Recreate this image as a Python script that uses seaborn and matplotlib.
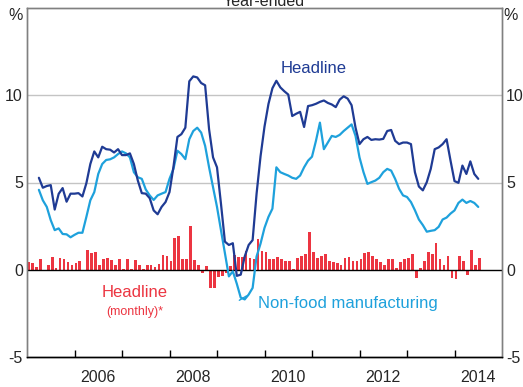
import pandas as pd
import matplotlib.pyplot as plt
import seaborn as sns

# year-ended inflation, monthly from Apr 2005 to Jul 2014
headline = [5.27, 4.7, 4.8, 4.85, 3.45, 4.35, 4.68, 3.9, 4.36, 4.36, 4.39, 4.2,
            4.96, 6.06, 6.78, 6.44, 7.05, 6.91, 6.88, 6.72, 6.91, 6.57, 6.57, 6.67,
            6.06, 5.11, 4.39, 4.36, 4.1, 3.4, 3.18, 3.6, 3.88, 4.45, 5.9, 7.61,
            7.77, 8.14, 10.8, 11.08, 11.02, 10.7, 10.57, 8.05, 6.44, 5.87, 3.79, 1.61,
            1.42, 1.52, -0.35, -0.28, 0.76, 1.42, 1.7, 4.36, 6.5, 8.2, 9.5, 10.4,
            10.83, 10.45, 10.23, 10.04, 8.81, 8.94, 9.05, 8.18, 9.38, 9.43, 9.51, 9.62,
            9.7, 9.56, 9.47, 9.32, 9.75, 9.94, 9.81, 9.43, 8.14, 7.2, 7.48, 7.61,
            7.44, 7.48, 7.46, 7.5, 7.95, 8.01, 7.39, 7.2, 7.29, 7.29, 7.2, 5.59,
            4.77, 4.55, 5.02, 5.78, 6.91, 7.01, 7.2, 7.48, 6.25, 5.08, 4.98, 5.97,
            5.49, 6.21, 5.49, 5.21]
non_food = [4.58, 3.98, 3.6, 2.84, 2.27, 2.37, 2.05, 2.03, 1.86, 2.0, 2.12, 2.12,
            3.03, 3.98, 4.45, 5.49, 6.06, 6.29, 6.33, 6.44, 6.63, 6.78, 6.67, 6.44,
            5.59, 5.3, 5.21, 4.6, 4.26, 4.0, 4.26, 4.36, 4.45, 5.21, 5.78, 6.82,
            6.63, 6.34, 7.48, 7.95, 8.14, 7.86, 7.1, 5.87, 4.73, 3.6, 2.27, 0.95,
            -0.38, -0.09, -0.8, -1.6, -1.7, -1.42, -1.04, 0.76, 1.5, 2.4, 3.03, 3.5,
            5.87, 5.59, 5.49, 5.4, 5.27, 5.21, 5.4, 5.87, 6.25, 6.48, 7.39, 8.43,
            6.91, 7.29, 7.67, 7.61, 7.73, 7.95, 8.14, 8.33, 7.67, 6.44, 5.6, 4.92,
            5.02, 5.11, 5.27, 5.59, 5.78, 5.68, 5.21, 4.64, 4.26, 4.17, 3.88, 3.41,
            2.88, 2.56, 2.18, 2.23, 2.27, 2.46, 2.88, 2.99, 3.22, 3.4, 3.83, 4.02,
            3.83, 3.94, 3.83, 3.6]
# monthly headline change, Jan 2005 to Jul 2014
monthly = [0.45, 0.36, 0.17, 0.59, -0.08, 0.3, 0.72, 0.08, 0.7, 0.62, 0.42, 0.3,
           0.4, 0.49, -0.05, 1.12, 0.97, 1.04, 0.3, 0.62, 0.68, 0.55, 0.28, 0.59,
           0.02, 0.6, 0.02, 0.55, 0.28, 0.04, 0.28, 0.28, 0.17, 0.34, 0.83, 0.81,
           0.49, 1.8, 1.93, 0.62, 0.62, 2.52, 0.55, 0.27, -0.17, 0.21, -1.05, -1.05,
           -0.4, -0.35, -0.17, 0.2, 0.87, 0.72, 0.72, 1.1, 0.68, 0.64, 1.76, 1.06,
           1.0, 0.62, 0.64, 0.74, 0.59, 0.51, 0.49, 0.06, 0.66, 0.78, 0.91, 2.18,
           1.0, 0.7, 0.81, 0.91, 0.53, 0.45, 0.38, 0.3, 0.7, 0.74, 0.51, 0.51,
           0.59, 0.97, 1.04, 0.81, 0.64, 0.47, 0.3, 0.62, 0.64, 0.11, 0.45, 0.59,
           0.66, 0.93, -0.49, 0.09, 0.51, 1.02, 0.91, 1.55, 0.62, 0.3, 0.76, -0.45,
           -0.53, 0.81, 0.51, -0.3, 1.12, 0.28, 0.66]
year_ticks = list(range(2006, 2015))
year_labels = ['2006', '2008', '2010', '2012', '2014']
y_ticks = [-5, 0, 5, 10]

navy = '#1f3b94'
cyan = '#1ea1dc'
red = '#ec3541'

line_dates = pd.date_range('2005-04-01', periods=len(headline), freq='MS')
bar_dates = pd.date_range('2005-01-01', periods=len(monthly), freq='MS')
df = pd.DataFrame({'t': line_dates.year + (line_dates.month - 1) / 12,
                   'headline': headline, 'non_food': non_food})
bars = pd.DataFrame({'t': bar_dates.year + (bar_dates.month - 1) / 12, 'v': monthly})

sns.set_theme(style='white')
plt.rcParams['font.family'] = ['Liberation Sans', 'DejaVu Sans']

fig = plt.figure(figsize=(5.23, 3.87), dpi=100)
ax = fig.add_axes([27 / 523, 30 / 387, 475 / 523, 349 / 387])

ax.axhline(5, color='#c4c4c4', lw=1, zorder=0)
ax.axhline(10, color='#c4c4c4', lw=1, zorder=0)
ax.bar(bars['t'], bars['v'], width=0.058, align='edge', color=red,
       edgecolor='none', linewidth=0, zorder=2)
ax.axhline(0, color='black', lw=1, zorder=3)
sns.lineplot(data=df, x='t', y='non_food', color=cyan, lw=1.6, ax=ax, zorder=4)
sns.lineplot(data=df, x='t', y='headline', color=navy, lw=1.6, ax=ax, zorder=5)

ax.set_xlim(2005, 2015)
ax.set_ylim(-5, 15)
ax.set_xlabel('')
ax.set_ylabel('')
ax.set_xticks(year_ticks)
ax.set_xticklabels([])
ax.set_xticks([int(y) + 0.5 for y in year_labels], minor=True)
ax.set_xticklabels(year_labels, minor=True, fontsize=11.5)
ax.tick_params(axis='x', which='major', direction='in', length=5, width=1, color='black', bottom=True)
ax.tick_params(axis='x', which='minor', length=0, pad=9)
ax.set_yticks(y_ticks)
ax.set_yticklabels([str(v) for v in y_ticks], fontsize=11.5)
ax.tick_params(axis='y', length=0, pad=3)

ax2 = ax.twinx()
ax2.set_ylim(-5, 15)
ax2.set_yticks(y_ticks)
ax2.set_yticklabels([str(v) for v in y_ticks], fontsize=11.5)
ax2.tick_params(axis='y', length=0, pad=3)

for a in (ax, ax2):
    for side in ['top', 'right', 'left']:
        a.spines[side].set_color('#808080')
        a.spines[side].set_linewidth(1)
    a.spines['bottom'].set_color('black')
    a.spines['bottom'].set_linewidth(1)

fig.text(16 / 523, 1 - 15 / 387, '%', ha='center', va='center', fontsize=11.5)
fig.text(511 / 523, 1 - 15 / 387, '%', ha='center', va='center', fontsize=11.5)
fig.text(264 / 523, 1 - 6 / 387, 'Year-ended', ha='center', va='baseline', fontsize=11.5)

ax.text(2011.04, 11.55, 'Headline', color=navy, fontsize=12, ha='center', va='center')
ax.text(2011.76, -1.95, 'Non-food manufacturing', color=cyan, fontsize=12, ha='center', va='center')
ax.plot([2009.62, 2009.47], [-1.5, -1.75], color=cyan, lw=1)
ax.text(2007.27, -1.3, 'Headline', color=red, fontsize=12, ha='center', va='center')
ax.text(2007.26, -2.4, '(monthly)*', color=red, fontsize=9, ha='center', va='center')

fig.savefig('out.png', dpi=100)
